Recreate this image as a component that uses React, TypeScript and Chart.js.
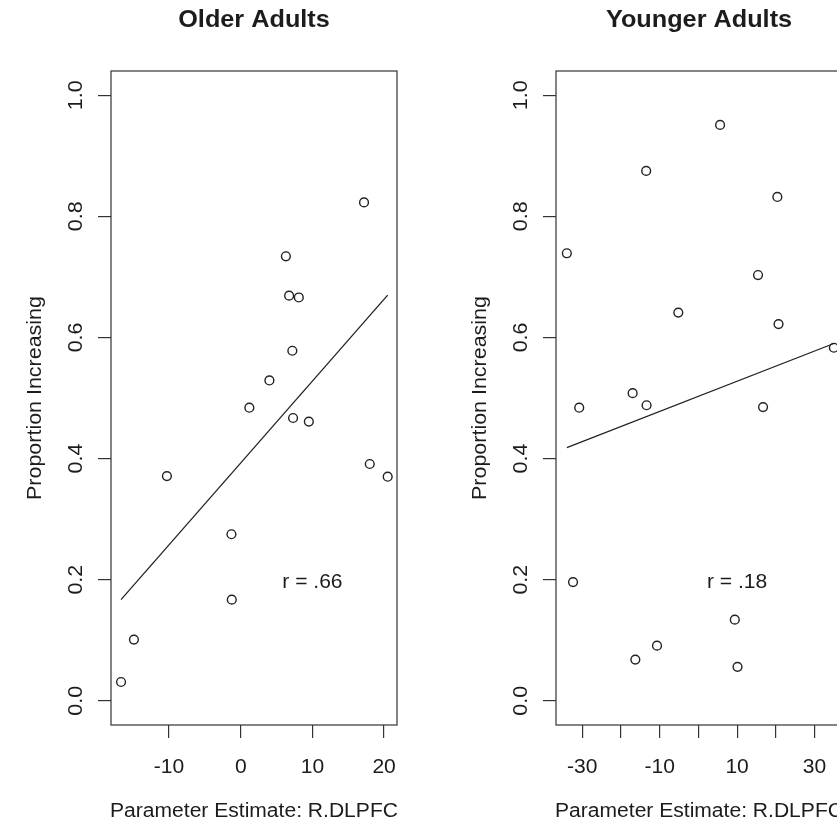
import React, { useEffect, useRef } from 'react';
import { Chart, registerables } from 'chart.js';

Chart.register(...registerables);

// ---------- shared axis data ----------
const yTickValues = [0, 0.2, 0.4, 0.6, 0.8, 1.0];
const yTickLabels = ['0.0', '0.2', '0.4', '0.6', '0.8', '1.0'];
const yRange = [-0.04, 1.04];
const yAxisTitle = 'Proportion Increasing';
const xAxisTitle = 'Parameter Estimate: R.DLPFC';

// ---------- Older adults ----------
const olderTitle = 'Older Adults';
const olderX = [17.2, 6.3, 6.75, 8.1, 7.2, 4.0, 1.2, 7.3, 9.5, 18.0, 20.5, -10.3, -1.3, -1.25, -14.9, -16.7];
const olderY = [0.823, 0.734, 0.669, 0.666, 0.578, 0.529, 0.484, 0.467, 0.461, 0.391, 0.370, 0.371, 0.275, 0.167, 0.101, 0.031];
const olderFitX = [-16.7, 20.5];
const olderFitY = [0.167, 0.670];
const olderXTicks = [-10, 0, 10, 20];
const olderXTickLabels = ['-10', '0', '10', '20'];
const olderXRange = [-18.1, 21.8];
const olderR = 'r = .66';
const olderRPos = [10, 0.2];

// ---------- Younger adults ----------
const youngerTitle = 'Younger Adults';
const youngerX = [5.6, -13.5, 20.4, -34.0, 15.4, -5.2, 20.7, 35.0, -17.0, -30.8, -13.4, 16.7, -32.4, 9.4, -10.7, -16.3, 10.1];
const youngerY = [0.951, 0.875, 0.832, 0.739, 0.703, 0.641, 0.622, 0.583, 0.508, 0.484, 0.488, 0.485, 0.196, 0.134, 0.091, 0.068, 0.056];
const youngerFitX = [-34.0, 35.0];
const youngerFitY = [0.418, 0.590];
const youngerXTicks = [-30, -20, -10, 0, 10, 20, 30];
const youngerXTickLabels = ['-30', '', '-10', '', '10', '', '30'];
const youngerXRange = [-36.8, 37.1];
const youngerR = 'r = .18';
const youngerRPos = [10, 0.2];

const FONT = '"Liberation Sans", Arial, Helvetica, sans-serif';
const SX = 1.08;
const SXR = 1.1;
const INK = '#1c1c1c';
const LINE = '#333333';

type Panel = {
  title: string;
  xs: number[];
  ys: number[];
  fitX: number[];
  fitY: number[];
  xTicks: number[];
  xTickLabels: string[];
  xRange: number[];
  rText: string;
  rPos: number[];
};

const panels: Panel[] = [
  { title: olderTitle, xs: olderX, ys: olderY, fitX: olderFitX, fitY: olderFitY, xTicks: olderXTicks, xTickLabels: olderXTickLabels, xRange: olderXRange, rText: olderR, rPos: olderRPos },
  { title: youngerTitle, xs: youngerX, ys: youngerY, fitX: youngerFitX, fitY: youngerFitY, xTicks: youngerXTicks, xTickLabels: youngerXTickLabels, xRange: youngerXRange, rText: youngerR, rPos: youngerRPos },
];

function makeTextPlugin(p: Panel) {
  return {
    id: 'rStyleText',
    afterDraw(chart: any) {
      const { ctx, chartArea: a } = chart;
      const xs = chart.scales.x;
      const ys = chart.scales.y;
      ctx.save();
      // plot box
      ctx.strokeStyle = LINE;
      ctx.lineWidth = 1.2;
      ctx.strokeRect(a.left, a.top, a.right - a.left, a.bottom - a.top);

      ctx.fillStyle = INK;
      ctx.textAlign = 'center';
      ctx.textBaseline = 'alphabetic';
      const put = (text: string, px: number, py: number, font: string, rotated = false) => {
        ctx.save();
        ctx.translate(px, py);
        if (rotated) {
          ctx.rotate(-Math.PI / 2);
          ctx.scale(SXR, 1);
        } else {
          ctx.scale(SX, 1);
        }
        ctx.font = font;
        ctx.fillText(text, 0, 0);
        ctx.restore();
      };
      const cx = (a.left + a.right) / 2;
      const cy = (a.top + a.bottom) / 2;
      // main title
      put(p.title, cx, 26.5, `bold 23.4px ${FONT}`);
      // x tick labels
      p.xTicks.forEach((v, i) => {
        const lab = p.xTickLabels[i];
        if (lab) put(lab, xs.getPixelForValue(v), 773, `19.5px ${FONT}`);
      });
      // y tick labels (rotated, R style)
      yTickValues.forEach((v, i) => {
        put(yTickLabels[i], a.left - 29.5, ys.getPixelForValue(v), `19.5px ${FONT}`, true);
      });
      // axis titles
      put(xAxisTitle, cx, 816.5, `19.5px ${FONT}`);
      put(yAxisTitle, a.left - 70.5, cy, `19.5px ${FONT}`, true);
      // correlation text
      put(p.rText, xs.getPixelForValue(p.rPos[0]), ys.getPixelForValue(p.rPos[1]) + 8, `19.5px ${FONT}`);
      ctx.restore();
    },
  };
}

function PanelChart({ panel, left }: { panel: Panel; left: number }) {
  const ref = useRef<HTMLCanvasElement | null>(null);
  useEffect(() => {
    if (!ref.current) return;
    const points = panel.xs.map((x, i) => ({ x, y: panel.ys[i] }));
    const fit = panel.fitX.map((x, i) => ({ x, y: panel.fitY[i] }));
    const chart = new Chart(ref.current, {
      type: 'scatter',
      data: {
        datasets: [
          {
            type: 'line',
            data: fit,
            borderColor: '#222222',
            borderWidth: 1.3,
            pointRadius: 0,
            fill: false,
            showLine: true,
          } as any,
          {
            data: points,
            pointStyle: 'circle',
            pointRadius: 4.4,
            pointHoverRadius: 4.4,
            borderWidth: 1.4,
            borderColor: '#222222',
            backgroundColor: 'rgba(0,0,0,0)',
          },
        ],
      },
      options: {
        responsive: false,
        animation: false,
        events: [],
        layout: { padding: { left: 0, right: 48, top: 71, bottom: 0 } },
        plugins: { legend: { display: false }, tooltip: { enabled: false }, title: { display: false } },
        scales: {
          x: {
            type: 'linear',
            position: 'bottom',
            min: panel.xRange[0],
            max: panel.xRange[1],
            afterBuildTicks: (s: any) => {
              s.ticks = panel.xTicks.map((v) => ({ value: v }));
            },
            afterFit: (s: any) => {
              s.height = 105;
            },
            ticks: { display: false },
            grid: { display: true, drawOnChartArea: false, drawTicks: true, tickLength: 13, color: LINE, lineWidth: 1.2 },
            border: { display: false },
          },
          y: {
            type: 'linear',
            position: 'left',
            min: yRange[0],
            max: yRange[1],
            afterBuildTicks: (s: any) => {
              s.ticks = yTickValues.map((v) => ({ value: v }));
            },
            afterFit: (s: any) => {
              s.width = 111;
            },
            ticks: { display: false },
            grid: { display: true, drawOnChartArea: false, drawTicks: true, tickLength: 13, color: LINE, lineWidth: 1.2 },
            border: { display: false },
          },
        },
      },
      plugins: [makeTextPlugin(panel)],
    });
    return () => chart.destroy();
  }, [panel]);
  return (
    <canvas
      ref={ref}
      width={445}
      height={830}
      style={{ position: 'absolute', left, top: 0, width: 445, height: 830 }}
    />
  );
}

export default function App() {
  return (
    <div
      style={{
        position: 'absolute',
        left: 0,
        top: 0,
        width: 837,
        height: 830,
        overflow: 'hidden',
        background: '#ffffff',
      }}
    >
      <PanelChart panel={panels[0]} left={0} />
      <PanelChart panel={panels[1]} left={445} />
    </div>
  );
}
